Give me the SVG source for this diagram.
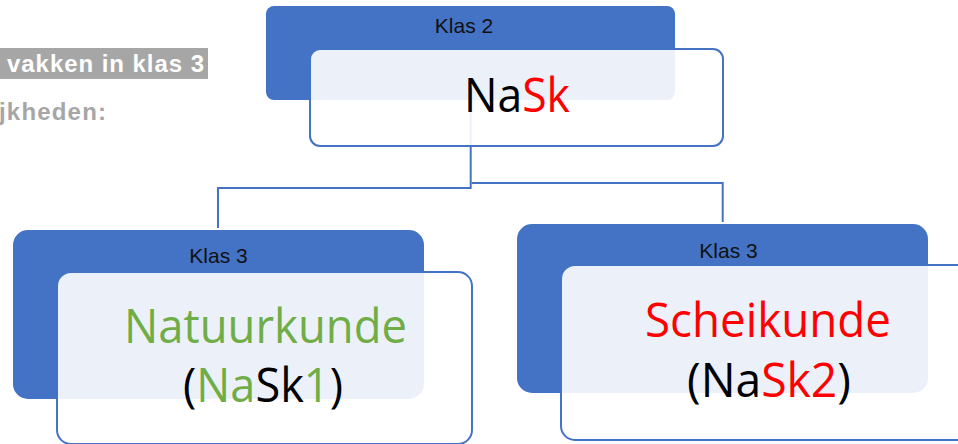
<svg xmlns="http://www.w3.org/2000/svg" width="958" height="444" viewBox="0 0 958 444">
<style>
.hdr{fill:#4472C4}
.box{fill:#FFFFFF;fill-opacity:0.9;stroke:#4472C4;stroke-width:2}
.klas{font-family:"Liberation Sans",Arial,sans-serif;font-size:21px;fill:#111111;text-anchor:middle}
.big{font-family:"Open Sans","Noto Sans",sans-serif;font-size:47px;text-anchor:middle}
.side{font-family:"Liberation Sans",Arial,sans-serif;font-weight:bold;font-size:24px}
.conn{fill:none;stroke:#4472C4;stroke-width:2}
.k{fill:#000000}.r{fill:#FF0000}.g{fill:#70AD47}
</style>
<rect width="958" height="444" fill="#FFFFFF"/>
<g id="side-text">
<rect x="0" y="48" width="208" height="31" fill="#A6A6A6"/>
<text class="side" x="7" y="72" fill="#FFFFFF" textLength="197" lengthAdjust="spacing">vakken in klas 3</text>
<text class="side" x="-1" y="120" fill="#A6A6A6" textLength="107" lengthAdjust="spacing">jkheden:</text>
</g>
<g id="connectors">
<path class="conn" d="M470.7 100 V188 H218 V228"/>
<path class="conn" d="M471.7 183 H722.7 V222"/>
</g>
<g id="node-klas2">
<rect class="hdr" x="266" y="6" width="409" height="94" rx="8"/>
<text class="klas" x="464" y="33">Klas 2</text>
<rect class="box" x="310" y="49" width="413" height="97" rx="10"/>
<text class="big" x="517" y="112" textLength="106" lengthAdjust="spacingAndGlyphs"><tspan class="k">Na</tspan><tspan class="r">Sk</tspan></text>
</g>
<g id="node-natuurkunde">
<rect class="hdr" x="13" y="230" width="411" height="169" rx="15"/>
<text class="klas" x="218.5" y="262.5">Klas 3</text>
<rect class="box" x="57" y="272" width="415" height="172" rx="14"/>
<text class="big g" x="265.5" y="343" textLength="283" lengthAdjust="spacingAndGlyphs">Natuurkunde</text>
<text class="big" x="263" y="402" textLength="160" lengthAdjust="spacingAndGlyphs"><tspan class="k">(</tspan><tspan class="g">Na</tspan><tspan class="k">Sk</tspan><tspan class="g">1</tspan><tspan class="k">)</tspan></text>
</g>
<g id="node-scheikunde">
<rect class="hdr" x="517" y="224" width="411" height="169" rx="15"/>
<text class="klas" x="728.5" y="258">Klas 3</text>
<rect class="box" x="561" y="265" width="420" height="175" rx="14"/>
<text class="big r" x="768" y="337" textLength="246" lengthAdjust="spacingAndGlyphs">Scheikunde</text>
<text class="big" x="769" y="397" textLength="164" lengthAdjust="spacingAndGlyphs"><tspan class="k">(Na</tspan><tspan class="r">Sk2</tspan><tspan class="k">)</tspan></text>
</g>
</svg>
